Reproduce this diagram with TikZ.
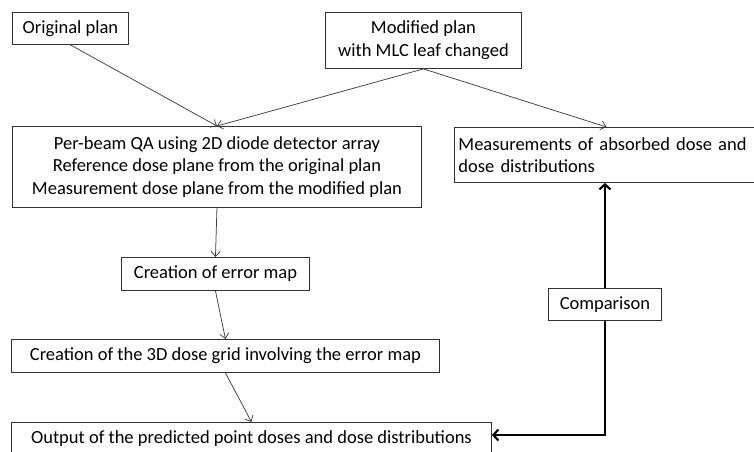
\documentclass[tikz,border=0pt]{standalone}
\usepackage{fontspec}
\setmainfont{Carlito}
\usetikzlibrary{arrows.meta,calc}
\begin{document}
\begin{tikzpicture}[x=1pt,y=-1pt,
  box/.style={draw=black!80,line width=0.9pt,rectangle,inner sep=0pt,
    anchor=north west,align=center,
    font=\fontsize{18.5}{22.6}\selectfont},
  flow/.style={draw=black!75,line width=0.75pt,
    -{Straight Barb[length=5pt,width=9pt]}},
  bold/.style={draw=black,line width=2.6pt,
    -{Straight Barb[length=5pt,width=11pt,line width=2.2pt]}}]
\useasboundingbox (0,0) rectangle (754,451);

% process boxes
\node[box,minimum width=116pt,minimum height=32pt] (orig) at (12,12) {Original plan};
\node[box,minimum width=196pt,minimum height=56pt] (mod) at (325,12)
  {Modified plan\\with MLC leaf changed};
\node[box,minimum width=409pt,minimum height=81pt] (qa) at (12,126)
  {Per-beam QA using 2D diode detector array\\
   Reference dose plane from the original plan\\
   Measurement dose plane from the modified plan};
\node[box,minimum width=304pt,minimum height=55pt,align=left,
  text width=296pt,inner xsep=4pt] (meas) at (454,127)
  {Measurements of absorbed dose and\\dose distributions};
\node[box,minimum width=188pt,minimum height=33pt] (err) at (121,257) {Creation of error map};
\node[box,minimum width=428pt,minimum height=33pt] (grid) at (11,339)
  {Creation of the 3D dose grid involving the error map};
\node[box,minimum width=480pt,minimum height=32pt] (out) at (11,422)
  {Output of the predicted point doses and dose distributions};
\node[box,minimum width=113pt,minimum height=32pt] (cmp) at (548,288) {Comparison};

% entry point of the comparison arrow on the output box
\coordinate (outin) at ([yshift=-13pt]out.north east);

% thin flow arrows
\draw[flow] (orig.south) -- (qa.north);
\draw[flow] (mod.south) -- (qa.north);
\draw[flow] (mod.south) -- (meas.north);
\draw[flow] (qa.south) -- (err.north);
\draw[flow] (err.south) -- (grid.north);
\draw[flow] (grid.south) -- (out.north);

% comparison loop
\draw[bold] (cmp.north) -- (cmp.north |- meas.south);
\draw[bold] (cmp.south) |- (outin);
\end{tikzpicture}
\end{document}
